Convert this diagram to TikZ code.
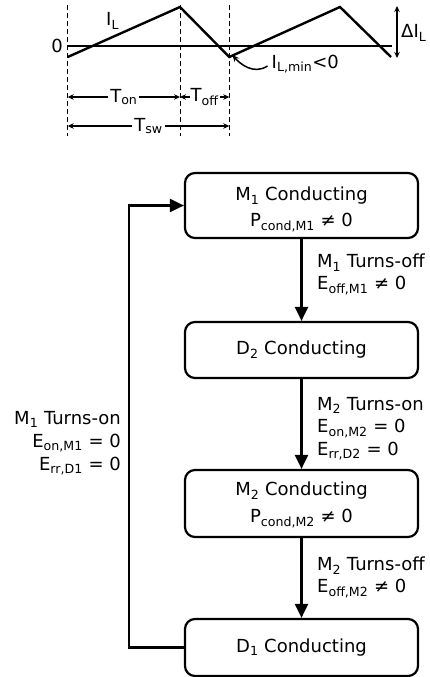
\documentclass[tikz,border=0pt]{standalone}
\usepackage{fontspec}
\setmainfont{DejaVu Sans}
\usetikzlibrary{arrows.meta}

\newcommand{\sbs}[1]{\textsubscript{#1}}
% strut that lowers the first line of a two-line box label
\newcommand{\toppad}[1]{\rule{0pt}{#1}}

\begin{document}
\begin{tikzpicture}[
    x=1pt, y=-1pt,
    font=\fontsize{18}{22}\selectfont,
    every node/.style={inner sep=0pt},
    statebox/.style={draw, line width=2.2pt, rounded corners=10pt,
      minimum width=233pt, minimum height=#1, align=center,
      font=\fontsize{18}{26}\selectfont},
    flow/.style={line width=2.2pt, -{Triangle[length=14pt,width=13pt]}},
    guide/.style={line width=1pt, dash pattern=on 5pt off 3pt},
    wave/.style={line width=2.4pt, line join=miter},
    dimline/.style={line width=1.5pt,
      {Stealth[length=6pt,width=5.5pt]}-{Stealth[length=6pt,width=5.5pt]}},
    pointer/.style={line width=1.5pt, -{Stealth[length=7pt,width=6pt]}},
    dimlabel/.style={fill=white, inner xsep=2pt},
    note/.style={align=left},
  ]
  \useasboundingbox (0,0) rectangle (429,677);

  % ---------- inductor current waveform ----------
  \coordinate (t0) at (67.7,0);
  \coordinate (t1) at (180,0);
  \coordinate (t2) at (229.3,0);

  \draw[guide] (67.7,5) -- (67.7,136);
  \draw[guide] (180,5) -- (180,136);
  \draw[guide] (229.3,5) -- (229.3,136);

  \draw[line width=1.6pt] (67.7,46) -- (392,46);
  \node[anchor=east] (zero) at (63,46) {0};

  \coordinate (vmin) at (229.3,57);
  \draw[wave] (67.7,57) -- (180,7) -- (vmin) -- (340,7) -- (391,57);
  \node[anchor=base west] (il) at (106,26) {I\sbs{L}};

  \node[anchor=base west] (ilmin) at (271.5,68) {I\sbs{L,min}<0};
  \draw[pointer] ([xshift=-4pt,yshift=2pt]ilmin.base west)
    .. controls +(-14,9) and +(8,9) .. ([xshift=3pt,yshift=2pt]vmin);

  % ripple
  \coordinate (ptop) at (397,6);
  \coordinate (pbot) at (397,58);
  \draw[dimline] (ptop) -- (pbot);
  \node[anchor=west] (dil) at (401,33) {ΔI\sbs{L}};

  % time intervals
  \draw[dimline] (t0 |- 0,97) -- (t1 |- 0,97)
    node[midway, dimlabel] (ton) {T\sbs{on}};
  \draw[dimline] (t1 |- 0,97) -- (t2 |- 0,97)
    node[midway, dimlabel, inner xsep=1pt] (toff) {T\sbs{off}};
  \draw[dimline] (t0 |- 0,126) -- (t2 |- 0,126)
    node[midway, dimlabel] (tsw) {T\sbs{sw}};

  % ---------- switching state sequence ----------
  \node[statebox=65pt] (m1) at (301.5,205.5)
    {\toppad{22pt}M\sbs{1} Conducting\\P\sbs{cond,M1} ≠ 0};
  \node[statebox=56pt] (d2) at (301.5,350) {D\sbs{2} Conducting};
  \node[statebox=67pt, font=\fontsize{18}{27}\selectfont] (m2) at (301.5,503.5)
    {\toppad{17pt}M\sbs{2} Conducting\\P\sbs{cond,M2} ≠ 0};
  \node[statebox=57pt] (d1) at (301.5,647.5) {D\sbs{1} Conducting};

  \draw[flow] (m1) -- (d2);
  \draw[flow] (d2) -- (m2);
  \draw[flow] (m2) -- (d1);

  \coordinate (loop) at (129,0);
  \draw[flow] (d1.west) -- (d1.west -| loop) |- (m1.west);

  \node[note, anchor=north west] (offm1) at (317,254)
    {M\sbs{1} Turns-off\\E\sbs{off,M1} ≠ 0};
  \node[note, anchor=north west, font=\fontsize{18}{22.5}\selectfont] (onm2) at (317,397)
    {M\sbs{2} Turns-on\\E\sbs{on,M2} = 0\\E\sbs{rr,D2} = 0};
  \node[note, anchor=north west] (offm2) at (317,557)
    {M\sbs{2} Turns-off\\E\sbs{off,M2} ≠ 0};
  \node[align=right, anchor=north east, font=\fontsize{18}{23}\selectfont] (onm1) at (121,411)
    {M\sbs{1} Turns-on\\E\sbs{on,M1} = 0\\E\sbs{rr,D1} = 0};
\end{tikzpicture}
\end{document}
